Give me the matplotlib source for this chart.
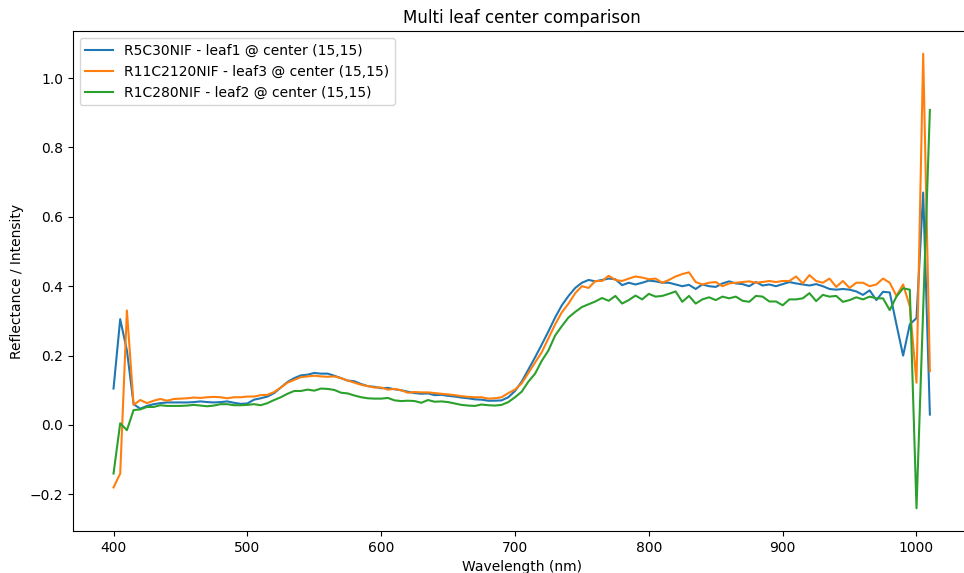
import matplotlib
matplotlib.use("Agg")
import matplotlib.pyplot as plt
import numpy as np

wavelengths = np.arange(400, 1011, 5)

# R5C30NIF - leaf1
leaf1 = [
    0.105, 0.305, 0.215, 0.060, 0.047, 0.055, 0.060, 0.063, 0.065, 0.065,
    0.065, 0.065, 0.066, 0.068, 0.066, 0.065, 0.066, 0.068, 0.064, 0.061,
    0.062, 0.073, 0.077, 0.082, 0.092, 0.108, 0.124, 0.135, 0.143, 0.145,
    0.150, 0.148, 0.148, 0.142, 0.135, 0.128, 0.126, 0.118, 0.112, 0.110,
    0.106, 0.107, 0.103, 0.100, 0.096, 0.092, 0.090, 0.091, 0.086, 0.087,
    0.084, 0.082, 0.079, 0.077, 0.074, 0.073, 0.070, 0.070, 0.071, 0.080,
    0.098, 0.125, 0.160, 0.195, 0.232, 0.270, 0.310, 0.345, 0.372, 0.395,
    0.410, 0.418, 0.414, 0.418, 0.422, 0.420, 0.403, 0.410, 0.405, 0.410,
    0.416, 0.414, 0.410, 0.410, 0.405, 0.400, 0.404, 0.392, 0.405, 0.400,
    0.398, 0.408, 0.414, 0.408, 0.406, 0.400, 0.412, 0.402, 0.405, 0.400,
    0.406, 0.412, 0.408, 0.405, 0.402, 0.406, 0.400, 0.392, 0.390, 0.392,
    0.390, 0.385, 0.375, 0.388, 0.360, 0.384, 0.382, 0.290, 0.200, 0.290,
    0.308, 0.670, 0.030,
]

# R11C2120NIF - leaf3
leaf3 = [
    -0.180, -0.140, 0.330, 0.058, 0.072, 0.063, 0.070, 0.075, 0.070, 0.075,
    0.076, 0.077, 0.079, 0.078, 0.080, 0.081, 0.080, 0.077, 0.080, 0.080,
    0.082, 0.082, 0.086, 0.087, 0.095, 0.108, 0.122, 0.130, 0.138, 0.140,
    0.142, 0.140, 0.139, 0.140, 0.135, 0.128, 0.122, 0.116, 0.112, 0.108,
    0.108, 0.102, 0.104, 0.100, 0.093, 0.095, 0.094, 0.094, 0.092, 0.090,
    0.088, 0.086, 0.083, 0.081, 0.080, 0.080, 0.076, 0.077, 0.080, 0.092,
    0.102, 0.120, 0.150, 0.180, 0.210, 0.250, 0.290, 0.325, 0.350, 0.380,
    0.400, 0.395, 0.415, 0.415, 0.430, 0.418, 0.415, 0.422, 0.428, 0.425,
    0.420, 0.422, 0.410, 0.418, 0.428, 0.435, 0.440, 0.412, 0.405, 0.410,
    0.412, 0.400, 0.408, 0.410, 0.412, 0.414, 0.410, 0.412, 0.415, 0.412,
    0.415, 0.415, 0.428, 0.408, 0.432, 0.415, 0.410, 0.422, 0.398, 0.415,
    0.395, 0.410, 0.410, 0.400, 0.405, 0.422, 0.410, 0.372, 0.405, 0.342,
    0.122, 1.070, 0.155,
]

# R1C280NIF - leaf2
leaf2 = [
    -0.140, 0.005, -0.015, 0.043, 0.045, 0.052, 0.052, 0.057, 0.055, 0.055,
    0.055, 0.056, 0.058, 0.056, 0.054, 0.056, 0.060, 0.060, 0.057, 0.057,
    0.058, 0.060, 0.057, 0.063, 0.072, 0.080, 0.090, 0.098, 0.098, 0.102,
    0.099, 0.105, 0.104, 0.101, 0.093, 0.091, 0.085, 0.080, 0.077, 0.076,
    0.076, 0.078, 0.071, 0.069, 0.070, 0.069, 0.064, 0.072, 0.067, 0.068,
    0.066, 0.062, 0.058, 0.056, 0.055, 0.059, 0.057, 0.056, 0.058, 0.066,
    0.080, 0.096, 0.125, 0.148, 0.185, 0.215, 0.258, 0.285, 0.310, 0.326,
    0.340, 0.348, 0.356, 0.366, 0.358, 0.372, 0.350, 0.360, 0.373, 0.362,
    0.378, 0.370, 0.372, 0.378, 0.385, 0.355, 0.372, 0.350, 0.362, 0.368,
    0.360, 0.370, 0.365, 0.370, 0.358, 0.355, 0.372, 0.370, 0.356, 0.356,
    0.345, 0.362, 0.362, 0.365, 0.380, 0.357, 0.375, 0.370, 0.372, 0.355,
    0.360, 0.368, 0.362, 0.370, 0.365, 0.365, 0.331, 0.370, 0.394, 0.390,
    -0.240, 0.335, 0.908,
]

labels = [
    "R5C30NIF - leaf1 @ center (15,15)",
    "R11C2120NIF - leaf3 @ center (15,15)",
    "R1C280NIF - leaf2 @ center (15,15)",
]

fig = plt.figure(figsize=(9.64, 5.73), dpi=100)
# axes runs a little past the right edge of the picture, as in the original
ax = fig.add_axes([72.7 / 964, 42 / 573, 898 / 964, 500 / 573])

for vals, lab in zip([leaf1, leaf3, leaf2], labels):
    ax.plot(wavelengths, vals, label=lab)

ax.set_xlabel("Wavelength (nm)")
ax.set_ylabel("Reflectance / Intensity")
ax.set_title("Multi leaf center comparison")
ax.legend(loc="upper left")

fig.savefig("out.png", dpi=100)
